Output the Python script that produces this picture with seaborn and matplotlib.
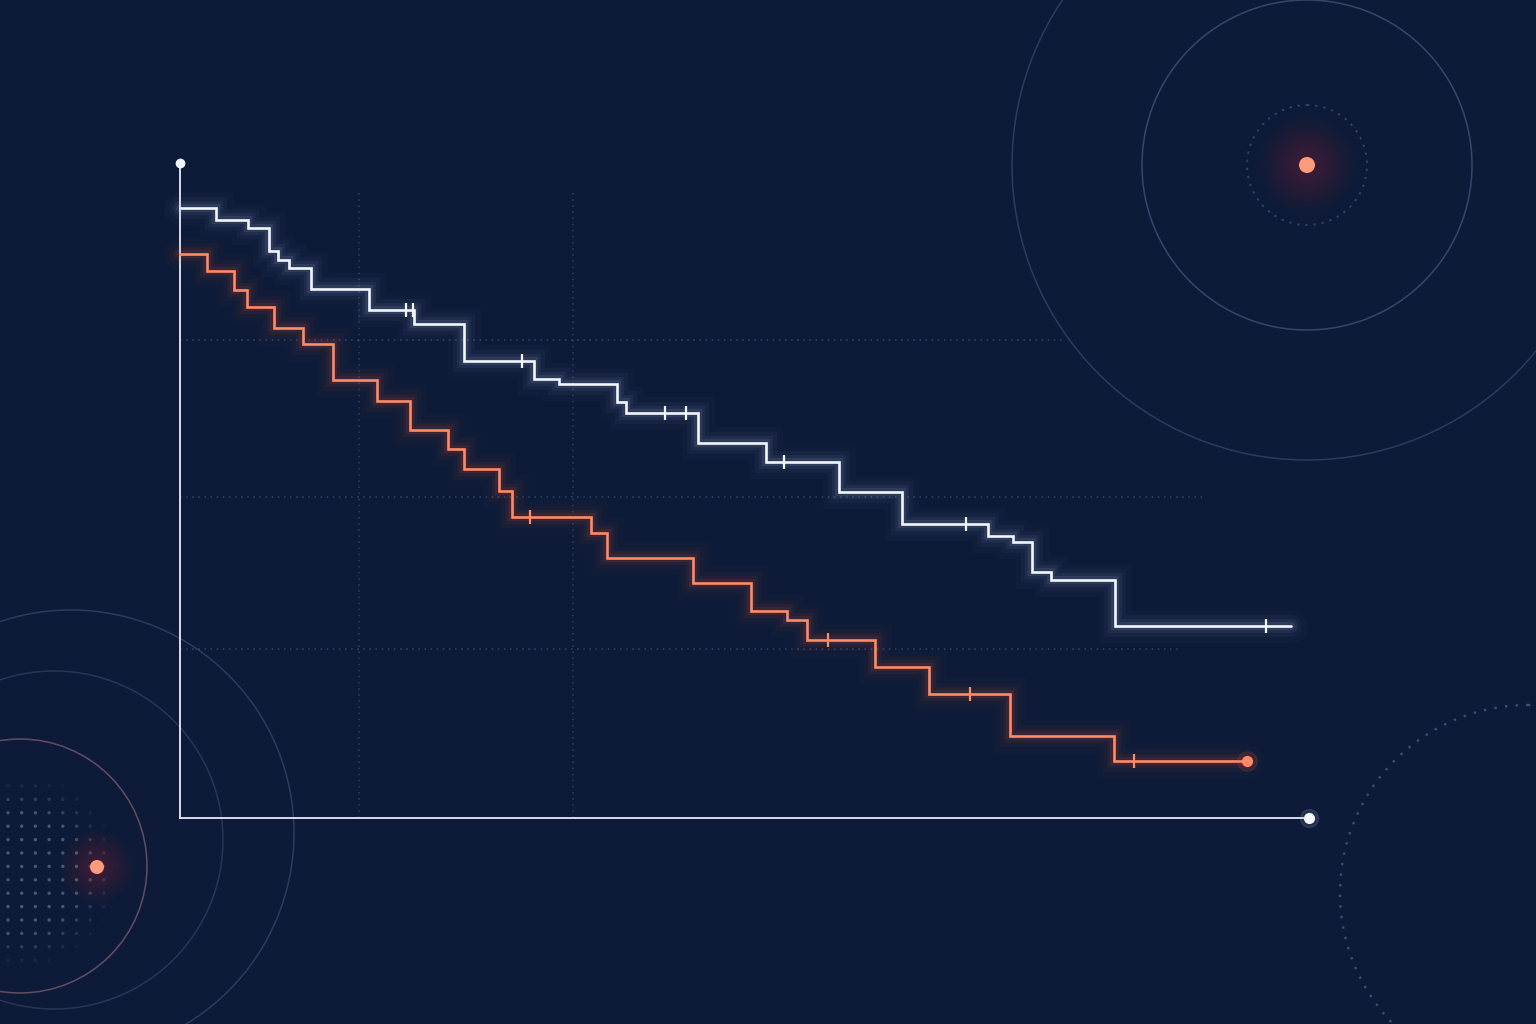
import numpy as np
import pandas as pd
import matplotlib
matplotlib.use("Agg")
import matplotlib.pyplot as plt
from matplotlib.patches import Circle
import seaborn as sns

# ---------------- data ----------------
white_t = [0, 1.91, 3.61, 4.73, 5.21, 5.79, 6.96, 10.04, 12.44, 15.09, 18.81, 20.14,
           23.22, 23.70, 27.53, 31.14, 35.02, 38.37, 42.94, 44.27, 45.28, 46.29, 49.69, 59.04]
white_s = [0.931, 0.913, 0.901, 0.866, 0.852, 0.840, 0.808, 0.776, 0.754, 0.698, 0.670, 0.662,
           0.635, 0.618, 0.573, 0.544, 0.498, 0.449, 0.431, 0.421, 0.376, 0.363, 0.293, 0.293]
white_censor = [12.01, 12.38, 18.17, 25.77, 26.89, 32.10, 41.77, 57.71]

orange_t = [0, 1.43, 2.87, 3.56, 5.00, 6.54, 8.13, 10.47, 12.22, 14.24, 15.09, 16.95,
            17.64, 21.84, 22.69, 27.26, 30.34, 32.26, 33.32, 36.93, 39.80, 44.11, 49.64, 56.70]
orange_s = [0.861, 0.835, 0.806, 0.780, 0.748, 0.724, 0.669, 0.637, 0.592, 0.563, 0.533, 0.499,
            0.460, 0.435, 0.397, 0.359, 0.316, 0.302, 0.272, 0.231, 0.189, 0.125, 0.087, 0.087]
orange_censor = [18.60, 34.44, 41.98, 50.70]

grid_y = [0.258, 0.490, 0.730]
grid_y_extent = [0.886, 0.908, 0.784]
grid_x = [9.51, 20.89]

# ---------------- style ----------------
BG = "#0d1b39"
WHITE = "#f3f6ff"
WHITE_GLOW = "#c8d4ff"
ORANGE = "#ff8a68"
ORANGE_GLOW = "#ff5a36"
GRIDC = "#5d6e92"
RINGC = "#52648a"

sns.set_theme(style="white")
plt.rcParams["font.family"] = ["DejaVu Sans"]

W, H = 1536, 1024
fig = plt.figure(figsize=(W / 100, H / 100), dpi=100)
fig.patch.set_facecolor(BG)

# background decoration axes in pixel coordinates
bg = fig.add_axes([0, 0, 1, 1])
bg.set_xlim(0, W)
bg.set_ylim(H, 0)
bg.axis("off")
bg.set_facecolor(BG)

def ring(ax, cx, cy, r, color, lw=1.1, alpha=0.5, ls="-"):
    ax.add_patch(Circle((cx, cy), r, fill=False, ec=color, lw=lw, alpha=alpha, ls=ls))

def glow_dot(ax, cx, cy, r_core, color, glow_color, glow_r, a=0.016):
    for k in range(14, 0, -1):
        rr = r_core + glow_r * k / 14
        ax.add_patch(Circle((cx, cy), rr, color=glow_color, alpha=a, lw=0))
    ax.add_patch(Circle((cx, cy), r_core, color=color, lw=0, alpha=1.0))

# top-right rings
ring(bg, 1307, 165, 295, RINGC, alpha=0.45)
ring(bg, 1307, 165, 165, RINGC, alpha=0.6)
ring(bg, 1307, 165, 60, RINGC, lw=1.4, alpha=0.55, ls=(0, (1.2, 3)))
glow_dot(bg, 1307, 165, 8, "#ff9b7a", "#ff5a36", 40)

# bottom-left rings
ring(bg, 71, 833, 223, RINGC, alpha=0.45)
ring(bg, 54, 840, 169, RINGC, alpha=0.38)
ring(bg, 20, 866, 127, "#a87884", alpha=0.55)

# dot grid near bottom-left
gx = np.arange(8, 120, 13.7)
gy = np.arange(786, 962, 13.4)
GX, GY = np.meshgrid(gx, gy)
d = np.hypot(GX - 22, GY - 872)
alpha = np.clip((98 - d) / 40, 0, 1) * 0.55
cols = np.zeros((GX.size, 4))
cols[:, :3] = matplotlib.colors.to_rgb("#7b8aab")
cols[:, 3] = alpha.ravel()
bg.scatter(GX.ravel(), GY.ravel(), s=6, c=cols, lw=0)
glow_dot(bg, 97, 867, 7, "#ff9b7a", "#ff5a36", 30)

# bottom-right dotted ring
ring(bg, 1528, 893, 188, RINGC, lw=1.7, alpha=0.7, ls=(0, (1, 3.5)))

# ---------------- main chart ----------------
ax = fig.add_axes([180 / W, (H - 818) / H, 1129 / W, 655 / H])
ax.set_facecolor("none")
ax.set_xlim(0, 60)
ax.set_ylim(0, 1)
ax.set_xticks([])
ax.set_yticks([])
for s in ["top", "right"]:
    ax.spines[s].set_visible(False)
for s in ["left", "bottom"]:
    ax.spines[s].set_color("#e8ecf8")
    ax.spines[s].set_linewidth(1.3)

# partial dotted grid
for yv, ext in zip(grid_y, grid_y_extent):
    ax.axhline(yv, xmin=0, xmax=ext, color=GRIDC, lw=1.1, alpha=0.5, ls=(0, (1, 3)), zorder=1)
for xv in grid_x:
    ax.axvline(xv, ymin=0, ymax=0.954, color=GRIDC, lw=1.1, alpha=0.45, ls=(0, (1, 3)), zorder=1)

# axis end dots
ax.plot([0], [1], "o", color=WHITE, ms=6, transform=ax.transAxes, clip_on=False, zorder=6)
ax.plot([1], [0], "o", color=WHITE_GLOW, ms=13, alpha=0.12, transform=ax.transAxes, clip_on=False, zorder=5)
ax.plot([1], [0], "o", color=WHITE, ms=7, transform=ax.transAxes, clip_on=False, zorder=6)

df_w = pd.DataFrame({"time": white_t, "surv": white_s})
df_o = pd.DataFrame({"time": orange_t, "surv": orange_s})

def step_at(ts, ss, t):
    idx = np.searchsorted(np.asarray(ts), np.asarray(t), side="right") - 1
    return np.asarray(ss)[idx]

for df, core, glow, cens, ts, ss in [
    (df_o, ORANGE, ORANGE_GLOW, orange_censor, orange_t, orange_s),
    (df_w, WHITE, WHITE_GLOW, white_censor, white_t, white_s),
]:
    for lw, a in [(24, 0.02), (16, 0.035), (10, 0.055), (6, 0.09)]:
        sns.lineplot(data=df, x="time", y="surv", ax=ax, color=glow, lw=lw, alpha=a,
                     drawstyle="steps-post", estimator=None, sort=False, legend=False,
                     solid_joinstyle="miter", clip_on=False, zorder=3)
    sns.lineplot(data=df, x="time", y="surv", ax=ax, color=core, lw=1.9,
                 drawstyle="steps-post", estimator=None, sort=False, legend=False,
                 solid_joinstyle="miter", clip_on=False, zorder=4)
    cy = step_at(ts, ss, cens)
    ax.plot(cens, cy, linestyle="none", marker="|", ms=10, mew=1.6, color=core, zorder=5)

# orange end dot
ax.plot([orange_t[-1]], [orange_s[-1]], "o", color=ORANGE_GLOW, ms=14, alpha=0.12, zorder=5)
ax.plot([orange_t[-1]], [orange_s[-1]], "o", color=ORANGE, ms=7, zorder=6)

ax.set_xlabel("")
ax.set_ylabel("")

fig.savefig("out.png", dpi=100, facecolor=fig.get_facecolor())
